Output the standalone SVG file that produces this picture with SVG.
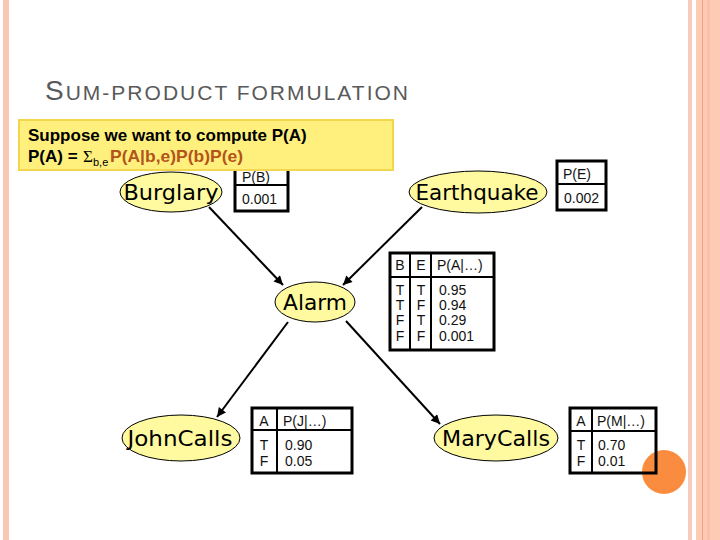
<svg xmlns="http://www.w3.org/2000/svg" width="720" height="540" viewBox="0 0 720 540">
<style>
.node ellipse{fill:#FFFAA0;stroke:#000;stroke-width:1}
.lbl{font-family:"Comic Sans MS","DejaVu Sans",sans-serif;font-size:22px;fill:#000;text-anchor:middle}
.tbl{fill:none;stroke:#000;stroke-width:3}
.div{stroke:#000;stroke-width:2}
.t{font-family:"Liberation Sans",Arial,sans-serif;font-size:14px;fill:#111}
.c{text-anchor:middle}
.edge{stroke:#000;stroke-width:2;fill:none;marker-end:url(#ah)}
.call{font-family:"Liberation Sans",Arial,sans-serif;font-size:17px;font-weight:bold;fill:#000}
</style>
<defs>
<marker id="ah" viewBox="0 0 10 10" refX="10" refY="5" markerWidth="11" markerHeight="9" markerUnits="userSpaceOnUse" orient="auto">
<path d="M0,0 L10,5 L0,10 z" fill="#000"/>
</marker>
</defs>
<rect width="720" height="540" fill="#fff"/>
<!-- slide borders -->
<rect x="3" y="0" width="6" height="540" fill="#F9C6B4"/>
<rect x="688" y="0" width="4" height="540" fill="#F8CCBC"/>
<rect x="696" y="0" width="24" height="540" fill="#FDCAB4"/>
<rect x="707" y="0" width="3" height="540" fill="#F8C0A8"/>
<line x1="702.5" y1="0" x2="702.5" y2="540" stroke="#F0A282" stroke-width="1"/>
<!-- title -->
<text x="45" y="100" font-family="Liberation Sans,Arial,sans-serif" fill="#595959" textLength="363" lengthAdjust="spacing"><tspan font-size="28">S</tspan><tspan font-size="21">UM-PRODUCT FORMULATION</tspan></text>
<!-- connectors -->
<g id="connectors">
<line class="edge" x1="209" y1="207" x2="283" y2="285"/>
<line class="edge" x1="422" y1="207" x2="343" y2="285"/>
<line class="edge" x1="288" y1="322" x2="217" y2="417"/>
<line class="edge" x1="346" y1="321" x2="440" y2="424"/>
</g>
<!-- Burglary -->
<g id="burglary" class="node">
<ellipse cx="171" cy="192" rx="51" ry="20"/>
<text class="lbl" x="171" y="200" textLength="95" lengthAdjust="spacingAndGlyphs">Burglary</text>
<rect class="tbl" x="235" y="160" width="53" height="51"/>
<line class="div" x1="235" y1="185" x2="288" y2="185"/>
<text class="t" x="242" y="182">P(B)</text>
<text class="t" x="242" y="204">0.001</text>
</g>
<!-- Earthquake -->
<g id="earthquake" class="node">
<ellipse cx="478" cy="192" rx="69" ry="21"/>
<text class="lbl" x="477" y="200" textLength="123" lengthAdjust="spacingAndGlyphs">Earthquake</text>
<rect class="tbl" x="557" y="161" width="49" height="49"/>
<line class="div" x1="557" y1="184" x2="606" y2="184"/>
<text class="t" x="563" y="179">P(E)</text>
<text class="t" x="564" y="203">0.002</text>
</g>
<!-- Alarm -->
<g id="alarm" class="node">
<ellipse cx="315" cy="302" rx="40" ry="20"/>
<text class="lbl" x="315" y="310" textLength="64" lengthAdjust="spacingAndGlyphs">Alarm</text>
<rect class="tbl" x="390" y="253" width="104" height="97"/>
<line class="div" x1="390" y1="277" x2="494" y2="277"/>
<line class="div" x1="410" y1="253" x2="410" y2="350"/>
<line class="div" x1="431" y1="253" x2="431" y2="350"/>
<text class="t c" x="400" y="270">B</text>
<text class="t c" x="421" y="270">E</text>
<text class="t" x="437" y="270">P(A|…)</text>
<text class="t c" x="400" y="295">T</text><text class="t c" x="421" y="295">T</text><text class="t" x="439" y="295">0.95</text>
<text class="t c" x="400" y="310">T</text><text class="t c" x="421" y="310">F</text><text class="t" x="439" y="310">0.94</text>
<text class="t c" x="400" y="325">F</text><text class="t c" x="421" y="325">T</text><text class="t" x="439" y="325">0.29</text>
<text class="t c" x="400" y="341">F</text><text class="t c" x="421" y="341">F</text><text class="t" x="439" y="341">0.001</text>
</g>
<!-- JohnCalls -->
<g id="johncalls" class="node">
<ellipse cx="181" cy="438" rx="59" ry="23"/>
<text class="lbl" x="180" y="446" textLength="105" lengthAdjust="spacingAndGlyphs">JohnCalls</text>
<rect class="tbl" x="252" y="408" width="100" height="65"/>
<line class="div" x1="252" y1="430" x2="352" y2="430"/>
<line class="div" x1="277" y1="408" x2="277" y2="473"/>
<text class="t c" x="264" y="426">A</text>
<text class="t" x="283" y="426">P(J|…)</text>
<text class="t c" x="264" y="450">T</text><text class="t" x="285" y="450">0.90</text>
<text class="t c" x="264" y="466">F</text><text class="t" x="285" y="466">0.05</text>
</g>
<!-- MaryCalls -->
<g id="marycalls" class="node">
<ellipse cx="496" cy="438" rx="62" ry="23"/>
<text class="lbl" x="496" y="446" textLength="108" lengthAdjust="spacingAndGlyphs">MaryCalls</text>
<circle cx="664" cy="472" r="22" fill="#F98C3E"/>
<rect class="tbl" x="570" y="408" width="86" height="65"/>
<line class="div" x1="570" y1="431" x2="656" y2="431"/>
<line class="div" x1="592" y1="408" x2="592" y2="473"/>
<text class="t c" x="581" y="426">A</text>
<text class="t" x="597" y="426">P(M|…)</text>
<text class="t c" x="581" y="450">T</text><text class="t" x="598" y="450">0.70</text>
<text class="t c" x="581" y="466">F</text><text class="t" x="598" y="466">0.01</text>
</g>
<!-- callout -->
<g id="callout">
<rect x="19" y="120" width="374" height="50" fill="#FFF07E" stroke="#F2D64E" stroke-width="2"/>
<text class="call" x="28" y="141">Suppose we want to compute P(A)</text>
<text class="call" x="28" y="162">P(A) = </text>
<text x="83" y="162" font-family="Liberation Serif,serif" font-size="17" fill="#000">Σ</text>
<text x="93" y="166" font-family="Liberation Sans,Arial,sans-serif" font-size="11" fill="#000">b,e</text>
<text class="call" x="110" y="162" fill="#B4531A" style="fill:#B4531A" textLength="133" lengthAdjust="spacingAndGlyphs">P(A|b,e)P(b)P(e)</text>
</g>
</svg>
